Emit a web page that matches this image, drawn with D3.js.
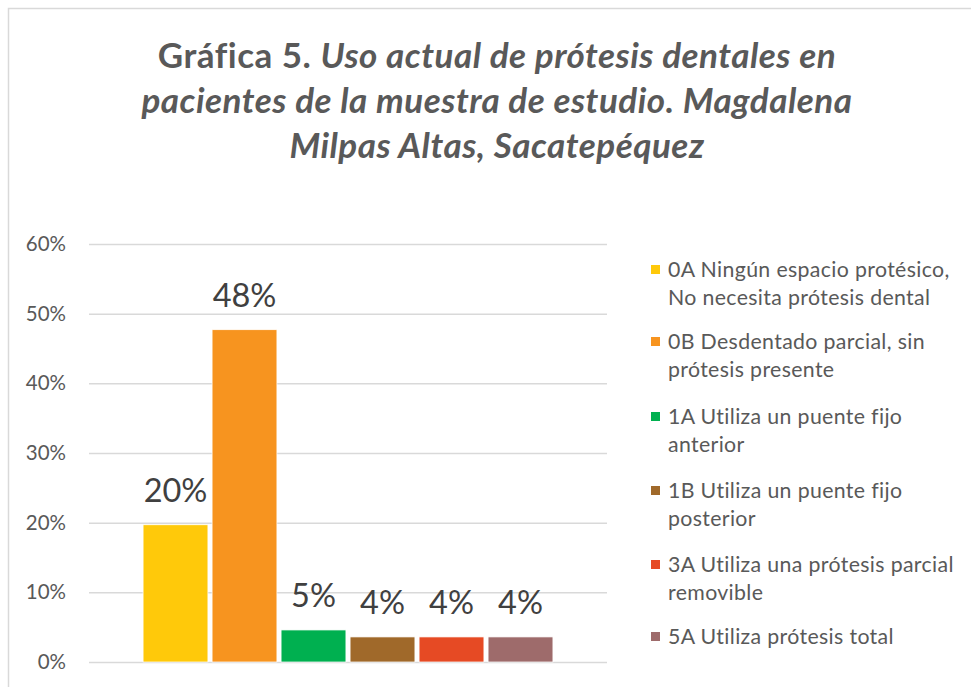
<!DOCTYPE html>
<html>
<head>
<meta charset="utf-8">
<script src="https://cdn.jsdelivr.net/npm/d3@7"></script>
<style>
  html, body { margin: 0; padding: 0; background: #fff; }
  svg { display: block; font-family: Lato, "Open Sans", sans-serif; font-variant-ligatures: none; }
</style>
</head>
<body>
<div class="chart"></div>
<script>
// datos
const categories = [
  '0A Ningún espacio protésico, No necesita prótesis dental',
  '0B Desdentado parcial, sin prótesis presente',
  '1A Utiliza un puente fijo anterior',
  '1B Utiliza un puente fijo posterior',
  '3A Utiliza una prótesis parcial removible',
  '5A Utiliza prótesis total'
];
// líneas de la leyenda (como en el original)
const legendLines = [
  ['0A Ningún espacio protésico,', 'No necesita prótesis dental'],
  ['0B Desdentado parcial, sin', 'prótesis presente'],
  ['1A Utiliza un puente fijo', 'anterior'],
  ['1B Utiliza un puente fijo', 'posterior'],
  ['3A Utiliza una prótesis parcial', 'removible'],
  ['5A Utiliza prótesis total']
];
const values = [0.197, 0.477, 0.046, 0.036, 0.036, 0.036];
const colors = ['#FFC90A', '#F7941F', '#00B050', '#A0692A', '#E64A24', '#9E6B6B'];
const yTicks = [0, 0.1, 0.2, 0.3, 0.4, 0.5, 0.6];
const titleBold = 'Gráfica 5.';
const titleLines = [
  'Uso actual de prótesis dentales en',
  'pacientes de la muestra de estudio. Magdalena',
  'Milpas Altas, Sacatepéquez'
];

const width = 971, height = 687;
const plot = { left: 89, right: 607, top: 244, bottom: 662 };

const svg = d3.select('.chart').append('svg')
  .attr('width', width).attr('height', height);

// marco del gráfico
svg.append('rect')
  .attr('x', 8.5).attr('y', 8.5)
  .attr('width', 1000).attr('height', 1000)
  .style('fill', 'none').style('stroke', '#d9d9d9').style('stroke-width', 1.5);

// título
const title = svg.append('text')
  .attr('text-anchor', 'middle')
  .style('font-size', '35px').style('font-weight', 'bold')
  .style('letter-spacing', '0.5px')
  .style('fill', '#595959');
title.append('tspan').attr('x', 497).attr('y', 68).text(titleBold + ' ');
title.append('tspan').style('font-style', 'italic').text(titleLines[0]);
titleLines.slice(1).forEach((t, i) => {
  title.append('tspan')
    .attr('x', 497).attr('y', 68 + 45 * (i + 1))
    .style('font-style', 'italic')
    .text(t);
});

// escalas
const yScale = d3.scaleLinear().domain([0, 0.6]).range([plot.bottom, plot.top]);
const xScale = d3.scaleBand()
  .domain(categories)
  .range([141, 555])
  .paddingInner(0.06)
  .paddingOuter(0.03);

// eje Y + cuadrícula
const yAxis = d3.axisLeft(yScale)
  .tickValues(yTicks)
  .tickFormat(d3.format('.0%'))
  .tickSizeInner(-(plot.right - plot.left))
  .tickSizeOuter(0)
  .tickPadding(23);
const gy = svg.append('g')
  .attr('transform', `translate(${plot.left},0)`)
  .call(yAxis);
gy.select('.domain').remove();
gy.selectAll('line').style('stroke', '#d9d9d9').style('stroke-width', 1.5);
gy.selectAll('text')
  .style('font-size', '20.5px')
  .style('fill', '#595959')
  .style('font-family', 'Lato, "Open Sans", sans-serif');

// barras
svg.append('g').selectAll('rect')
  .data(values).enter()
  .append('rect')
  .attr('x', (d, i) => xScale(categories[i]))
  .attr('y', d => yScale(d))
  .attr('width', xScale.bandwidth())
  .attr('height', d => yScale(0) - yScale(d))
  .style('fill', (d, i) => colors[i])
  .style('stroke', '#fff').style('stroke-width', 0.75);

// etiquetas de datos
svg.append('g').selectAll('text')
  .data(values).enter()
  .append('text')
  .attr('x', (d, i) => xScale(categories[i]) + xScale.bandwidth() / 2)
  .attr('y', d => yScale(d) - 23)
  .attr('text-anchor', 'middle')
  .style('font-size', '32.5px')
  .style('fill', '#404040')
  .text(d => d3.format('.0%')(d));

// leyenda
const legend = svg.append('g');
const rowY = [270, 342, 417, 491, 565, 637];
legendLines.forEach((lines, i) => {
  const g = legend.append('g').attr('transform', `translate(651,${rowY[i]})`);
  g.append('rect')
    .attr('x', 0).attr('y', -5).attr('width', 9).attr('height', 9)
    .style('fill', colors[i]);
  const t = g.append('text')
    .style('font-size', '21.3px')
    .style('letter-spacing', '0.35px')
    .style('fill', '#595959');
  lines.forEach((l, j) => {
    t.append('tspan').attr('x', 17).attr('y', 27.5 * j).attr('dy', '0.35em').text(l);
  });
});
</script>
</body>
</html>
